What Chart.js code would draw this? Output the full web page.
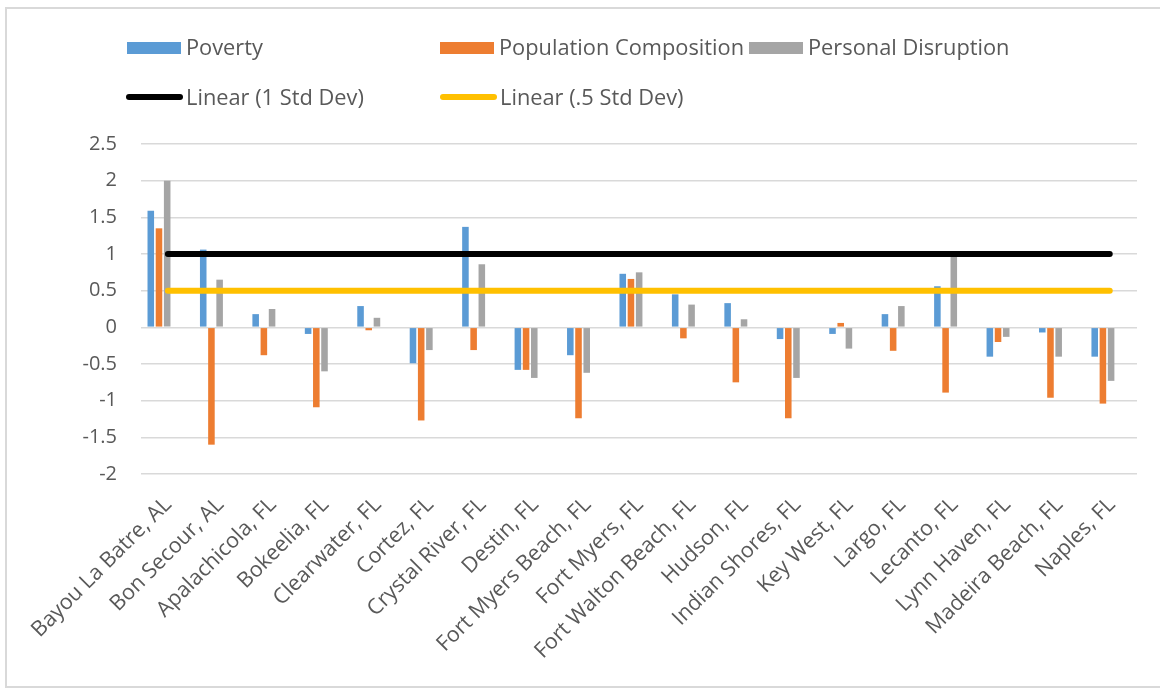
<!DOCTYPE html>
<html>
<head>
<meta charset="utf-8">
<script src="https://cdn.jsdelivr.net/npm/chart.js@4/dist/chart.umd.min.js"></script>
<style>
  html, body { margin: 0; padding: 0; background: #fff; }
  #wrap { position: relative; width: 1160px; height: 688px; }
  #chart { position: absolute; left: 0; top: 0; }
  .lg { position: absolute; font: 21.8px "Open Sans", sans-serif; color: #595959; white-space: nowrap; }
  .lg i { position: absolute; display: block; }
</style>
</head>
<body>
<div id="wrap">
  <canvas id="chart" width="1160" height="688"></canvas>
  <div id="legend"></div>
</div>
<script>
// ── Data (z-scores per community) ───────────────────────────
const towns = [
  "Bayou La Batre, AL", "Bon Secour, AL", "Apalachicola, FL", "Bokeelia, FL",
  "Clearwater, FL", "Cortez, FL", "Crystal River, FL", "Destin, FL",
  "Fort Myers Beach, FL", "Fort Myers, FL", "Fort Walton Beach, FL", "Hudson, FL",
  "Indian Shores, FL", "Key West, FL", "Largo, FL", "Lecanto, FL",
  "Lynn Haven, FL", "Madeira Beach, FL", "Naples, FL"
];
const poverty = [1.59, 1.06, 0.18, -0.09, 0.29, -0.49, 1.37, -0.58, -0.38, 0.73,
  0.45, 0.33, -0.16, -0.09, 0.18, 0.56, -0.40, -0.07, -0.40];
const popComposition = [1.35, -1.60, -0.38, -1.09, -0.04, -1.27, -0.31, -0.58, -1.24, 0.66,
  -0.15, -0.75, -1.24, 0.06, -0.32, -0.89, -0.20, -0.96, -1.04];
const personalDisruption = [2.0, 0.65, 0.25, -0.60, 0.13, -0.31, 0.86, -0.69, -0.62, 0.75,
  0.31, 0.11, -0.69, -0.29, 0.29, 0.98, -0.13, -0.40, -0.73];

// trendlines: flat at 1 and .5 std dev, spanning first to last community
const trendX = [0.17, 18.13];
const oneStdDev = [1, 1];
const halfStdDev = [0.5, 0.5];

const yTicks = [2.5, 2, 1.5, 1, 0.5, 0, -0.5, -1, -1.5, -2];

const toPoints = (xs, ys) => ys.map((v, i) => ({ x: xs[i], y: v }));
const idx = towns.map((t, i) => i);

/* ── Border round the whole chart ──────────────────────────*/
const frame = {
  id: "frame",
  beforeDraw(chart) {
    const c = chart.ctx;
    c.save();
    c.strokeStyle = "#d9d9d9";
    c.lineWidth = 2;
    c.beginPath();
    c.moveTo(1162, 8); c.lineTo(6, 8); c.lineTo(6, 687); c.lineTo(1162, 687);
    c.stroke();
    c.restore();
  }
};

const barStyle = { categoryPercentage: 0.469, barPercentage: 0.8, order: 2, borderWidth: 0 };
const lineStyle = { type: "line", borderWidth: 6, borderCapStyle: "round", pointRadius: 0, order: 0, fill: false };

const chart = new Chart(document.getElementById("chart"), {
  type: "bar",
  data: {
    datasets: [
      { label: "Poverty", data: toPoints(idx, poverty), backgroundColor: "#5B9BD5", ...barStyle },
      { label: "Population Composition", data: toPoints(idx, popComposition), backgroundColor: "#ED7D31", ...barStyle },
      { label: "Personal Disruption", data: toPoints(idx, personalDisruption), backgroundColor: "#A5A5A5", ...barStyle },
      { label: "Linear (1 Std Dev)", data: toPoints(trendX, oneStdDev), borderColor: "#000000", backgroundColor: "#000000", ...lineStyle },
      { label: "Linear (.5 Std Dev)", data: toPoints(trendX, halfStdDev), borderColor: "#FFC000", backgroundColor: "#FFC000", ...lineStyle }
    ]
  },
  options: {
    responsive: false,
    animation: false,
    layout: { padding: { left: 0, right: 23, top: 144, bottom: 0 } },
    scales: {
      x: {
        type: "linear",
        offset: false,
        min: -0.343, max: 18.65,
        afterFit: s => { s.height = 214; },
        grid: { display: false, drawTicks: false },
        border: { display: false },
        ticks: {
          stepSize: 1, includeBounds: false, autoSkip: false,
          minRotation: 45, maxRotation: 45, padding: 18, labelOffset: 9,
          color: "#595959", font: { family: "'Open Sans'", size: 21.5 },
          callback: v => Number.isInteger(v) ? (towns[v] || "") : ""
        }
      },
      y: {
        min: -2, max: 2.5,
        afterFit: s => { s.width = 141; },
        afterBuildTicks: s => { s.ticks = yTicks.map(v => ({ value: v })); },
        grid: { color: "#d9d9d9", lineWidth: 1.5, drawTicks: false },
        border: { display: false },
        ticks: {
          padding: 24, color: "#595959", font: { family: "'Open Sans'", size: 20 },
          callback: v => String(v)
        }
      }
    },
    plugins: { legend: { display: false }, tooltip: { enabled: false } }
  },
  plugins: [frame]
});

/* ── Legend (Excel-like grid) ───────────────────────────────*/
const legendSpots = [
  { left: 127, top: 32, mark: "box" },
  { left: 440, top: 32, mark: "box" },
  { left: 749, top: 32, mark: "box" },
  { left: 126, top: 82, mark: "line" },
  { left: 440, top: 82, mark: "line" }
];
document.getElementById("legend").innerHTML = chart.data.datasets.map((d, i) => {
  const p = legendSpots[i];
  const col = d.backgroundColor;
  const mark = p.mark === "box"
    ? `<i style="left:0;top:10px;width:54px;height:12px;background:${col}"></i>`
    : `<i style="left:0;top:12px;width:57px;height:6px;border-radius:3px;background:${col}"></i>`;
  return `<div class="lg" style="left:${p.left}px;top:${p.top}px;padding-left:${p.mark === "box" ? 59 : 60}px">${mark}${d.label}</div>`;
}).join("");
</script>
</body>
</html>
